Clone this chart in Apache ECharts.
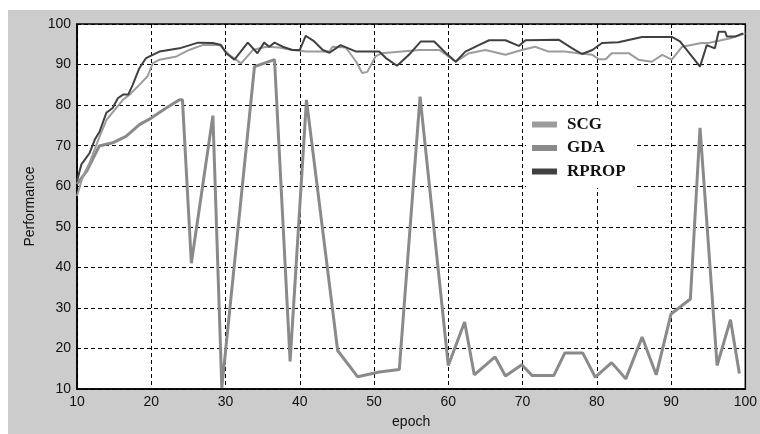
<!DOCTYPE html>
<head>
    <meta charset="utf-8">
    <title>Performance vs epoch</title>
    <style>
        body { margin: 0; background: #fff; }
        #frame { position: absolute; left: 8px; top: 10px; width: 752px; height: 424px; background: #cccccc; }
        #main { position: absolute; left: 0; top: 0; width: 760px; height: 434px; }
    </style>
</head>
<body>
    <div id="frame"></div>
    <div id="main"></div>
    <script src="https://cdn.jsdelivr.net/npm/echarts@6/dist/echarts.min.js"></script>
    <script type="text/javascript">
        // values (epoch, performance)
        var scgEpoch = [10, 10.8, 11.7, 13.05, 14, 15.1, 16.2, 17.1, 18.4, 19.5, 20.2, 21.1, 23.4, 25.1, 26.9, 29.2, 30.5, 32.1, 33.7, 35.5, 37.2, 39, 40.8, 44, 44.4, 46.2, 47.6, 48.4, 49.1, 50.2, 51, 56.1, 58.8, 61, 62.8, 65, 67.7, 69.9, 71.7, 73.5, 75.7, 77.5, 79.4, 80.3, 81.2, 82, 84.3, 85.6, 87.4, 88.8, 90.1, 91.5, 94.1, 95, 98, 100];
        var scgPerf = [57.6, 62.5, 65.8, 72.3, 76.4, 78.9, 81.3, 82.6, 85, 87.1, 90.3, 91.2, 92, 93.6, 94.8, 94.8, 92.4, 90.3, 93.6, 94.4, 94.2, 93.6, 93.2, 93.2, 94.4, 94.2, 90.7, 87.9, 88.2, 92, 92.8, 93.6, 93.6, 90.7, 92.8, 93.6, 92.4, 93.6, 94.4, 93.2, 93.2, 92.8, 92.4, 91.3, 91.3, 92.8, 92.8, 91.2, 90.7, 92.4, 91.2, 94.4, 95.3, 95.3, 96.5, 97.7];

        var gdaEpoch = [10, 11.3, 13, 14.8, 16.6, 18.4, 20, 22, 23.8, 24.2, 25.4, 28.3, 29.5, 33.9, 36.6, 38.7, 40.9, 45.1, 47.8, 50.7, 53.4, 56.2, 60, 62.2, 63.5, 66.3, 67.7, 69.9, 71.3, 74.2, 75.7, 78.1, 79.8, 82, 83.9, 86.1, 88, 90, 92.6, 93.9, 96.2, 98, 99.2];
        var gdaPerf = [60.5, 63.7, 69.9, 70.7, 72.3, 75.2, 76.8, 79.3, 81.3, 81.3, 41, 77.4, 10.3, 89.5, 91.2, 16.8, 81.3, 19.5, 13, 14.2, 14.8, 82.1, 15.8, 26.5, 13.5, 17.9, 13.2, 16, 13.3, 13.3, 18.9, 18.9, 12.9, 16.5, 12.5, 22.8, 13.5, 28.5, 32.2, 74.4, 15.8, 27.1, 13.8];

        var rpropEpoch = [10, 10.6, 11.7, 12.4, 13.05, 13.95, 14.8, 15.5, 16.2, 16.9, 17.5, 18.4, 19.3, 21.1, 23.8, 26.3, 28.3, 29.4, 30.1, 31.2, 33, 34.3, 35.2, 35.9, 36.6, 37.7, 39, 40, 40.8, 41.95, 43.1, 44, 45.5, 47.6, 50.7, 51.6, 53.1, 54.7, 56.3, 58.1, 59.7, 61, 62.3, 64.1, 65.5, 67.7, 69.5, 70.4, 74.9, 76.7, 78, 79.4, 80.7, 82.9, 86.1, 90.1, 91.2, 93.9, 94.6, 94.8, 95.9, 96.4, 97.3, 97.5, 98.6, 99.7];
        var rpropPerf = [61.3, 65.4, 68.2, 71.5, 73.5, 78.1, 79.3, 81.7, 82.6, 82.6, 85, 89.1, 91.6, 93.2, 94, 95.4, 95.3, 94.8, 92.8, 91.2, 95.4, 92.8, 95.4, 94.4, 95.4, 94.4, 93.6, 93.6, 97.1, 95.7, 93.6, 92.9, 94.8, 93.2, 93.2, 91.6, 89.7, 92.4, 95.7, 95.7, 92.8, 90.7, 93.2, 94.8, 96, 96, 94.6, 96, 96.1, 94, 92.6, 93.6, 95.3, 95.5, 96.8, 96.8, 95.7, 89.5, 93.6, 94.8, 94, 98.1, 98.1, 96.9, 96.9, 97.7];

        function pairs(xs, ys) {
            return xs.map(function (x, i) { return [x, ys[i]]; });
        }

        var myChart = echarts.init(document.getElementById('main'));

        var gridLine = { show: true, lineStyle: { color: '#000', width: 1, type: [4, 3] } };
        var labelStyle = { fontFamily: 'Liberation Sans', fontSize: 14, color: '#111' };

        var option = {
            animation: false,
            backgroundColor: 'transparent',
            grid: {
                left: 77, right: 13, top: 24, bottom: 44,
                show: true, backgroundColor: '#fff', borderColor: '#000', borderWidth: 1.5
            },
            legend: {
                orient: 'vertical',
                left: 526, top: 108,
                padding: [8, 10, 8, 6],
                backgroundColor: '#fff',
                itemWidth: 25, itemHeight: 6, itemGap: 6.5,
                icon: 'rect',
                textStyle: {
                    fontFamily: 'Liberation Serif', fontWeight: 'bold', fontSize: 17,
                    color: '#111', lineHeight: 17, padding: [0, 0, 0, 5]
                },
                data: ['SCG', 'GDA', 'RPROP']
            },
            xAxis: {
                type: 'value', min: 10, max: 100, interval: 10,
                name: 'epoch', nameLocation: 'middle', nameGap: 26,
                nameTextStyle: labelStyle,
                axisLine: { lineStyle: { color: '#000', width: 1.5 } },
                axisTick: { show: false },
                axisLabel: Object.assign({ margin: 6 }, labelStyle),
                splitLine: gridLine
            },
            yAxis: {
                type: 'value', min: 10, max: 100, interval: 10,
                name: 'Performance', nameLocation: 'middle', nameGap: 40,
                nameTextStyle: labelStyle,
                axisLine: { show: true, lineStyle: { color: '#000', width: 1.5 } },
                axisTick: { show: false },
                axisLabel: Object.assign({ margin: 6 }, labelStyle),
                splitLine: gridLine
            },
            series: [
                {
                    name: 'GDA', type: 'line', symbol: 'none',
                    itemStyle: { color: '#8a8a8a' },
                    lineStyle: { color: '#8a8a8a', width: 3 },
                    data: pairs(gdaEpoch, gdaPerf), z: 2
                },
                {
                    name: 'SCG', type: 'line', symbol: 'none',
                    itemStyle: { color: '#9c9c9c' },
                    lineStyle: { color: '#9c9c9c', width: 2 },
                    data: pairs(scgEpoch, scgPerf), z: 3
                },
                {
                    name: 'RPROP', type: 'line', symbol: 'none',
                    itemStyle: { color: '#404040' },
                    lineStyle: { color: '#404040', width: 2 },
                    data: pairs(rpropEpoch, rpropPerf), z: 4
                }
            ]
        };

        myChart.setOption(option);
    </script>
</body>
